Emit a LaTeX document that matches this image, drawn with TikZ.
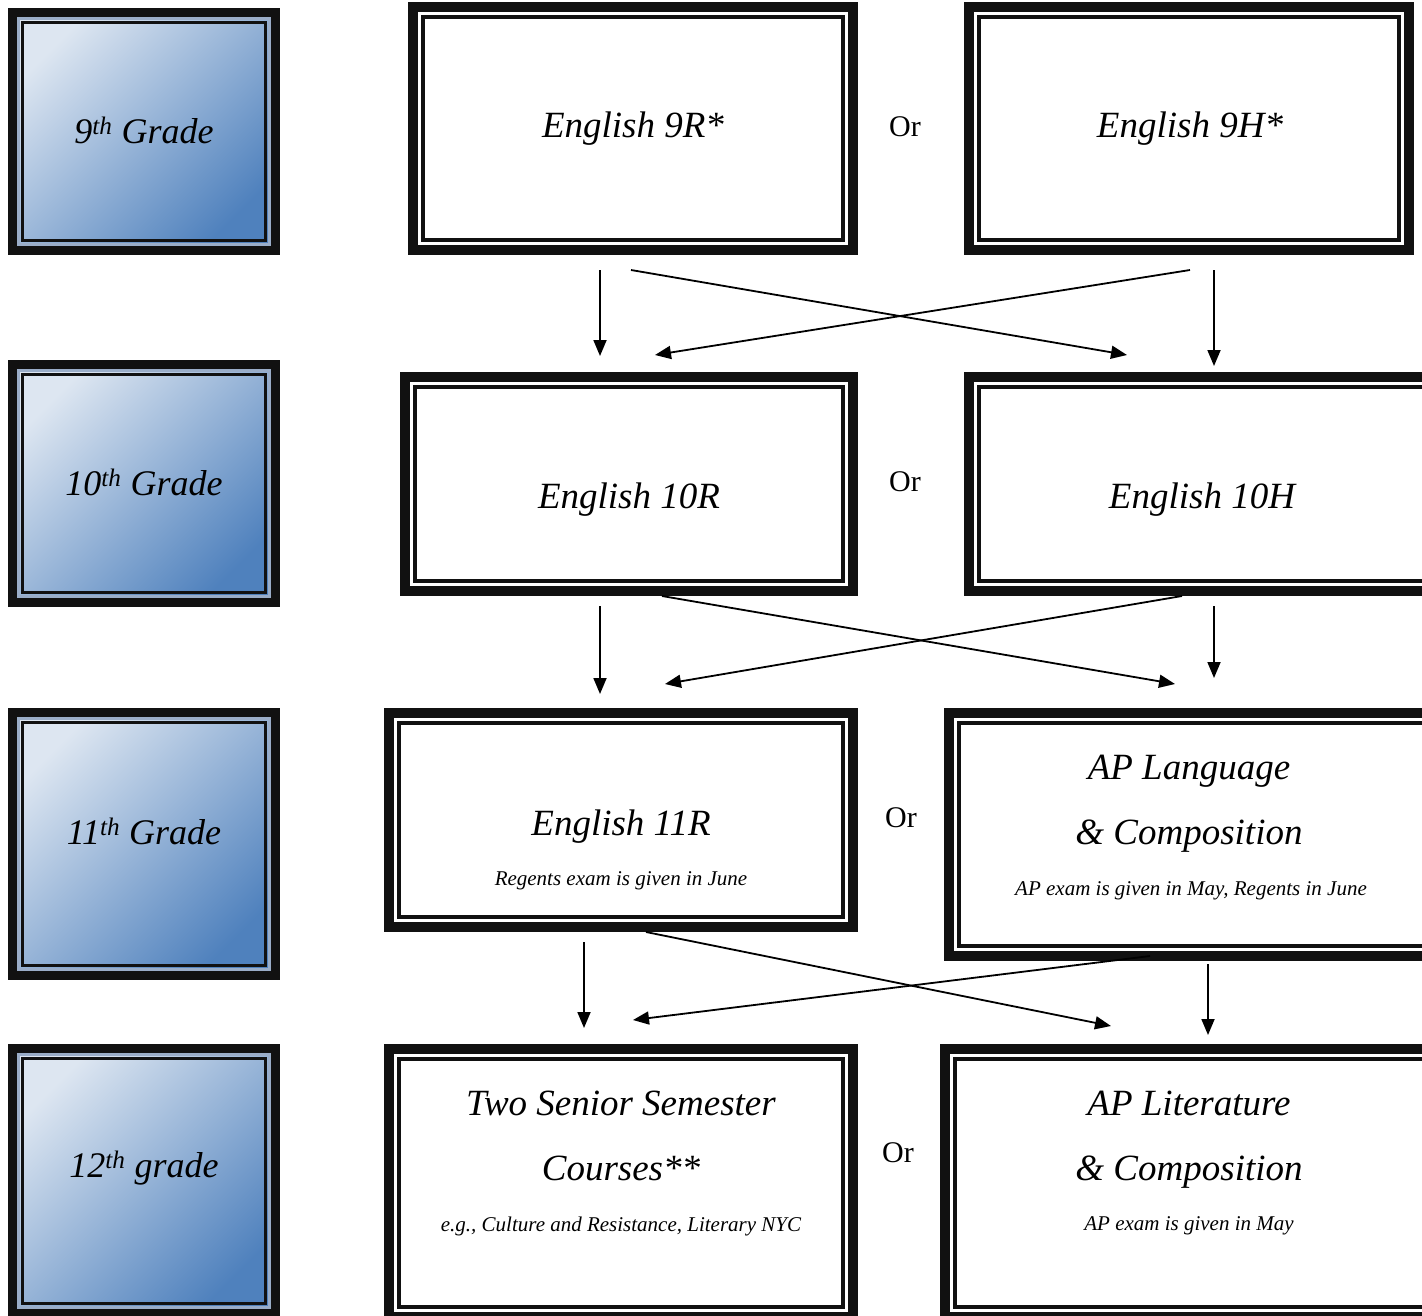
\documentclass[tikz,border=0pt]{standalone}
\usepackage{fontspec}
\setmainfont{Liberation Serif}
\usetikzlibrary{arrows.meta}
\definecolor{frame}{HTML}{111111}
\definecolor{gradlight}{HTML}{DDE6F1}
\definecolor{graddark}{HTML}{4F81BD}
\definecolor{gradband}{HTML}{9AADC8}

\begin{document}
\begin{tikzpicture}[x=1pt,y=-1pt,
    coursebox/.style={draw=frame, line width=10pt, fill=white, inner sep=0pt,
      path picture={\draw[frame, line width=3.5pt]
        ([shift={(10pt,-10pt)}]path picture bounding box.north west) rectangle
        ([shift={(-10pt,10pt)}]path picture bounding box.south east);}},
    gradebox/.style={draw=frame, line width=9pt, inner sep=0pt,
      top color=gradlight, bottom color=graddark, shading angle=45,
      path picture={
        \draw[gradband, line width=3pt]
          ([shift={(6.4pt,-6.4pt)}]path picture bounding box.north west) rectangle
          ([shift={(-6.4pt,6.4pt)}]path picture bounding box.south east);
        \draw[frame, line width=3pt]
          ([shift={(9.8pt,-9.8pt)}]path picture bounding box.north west) rectangle
          ([shift={(-9.8pt,9.8pt)}]path picture bounding box.south east);}},
    course/.style={font=\fontsize{37}{65}\selectfont\itshape, align=center, inner sep=0pt},
    note/.style={font=\fontsize{21}{25}\selectfont\itshape, inner sep=0pt},
    grade/.style={font=\fontsize{36}{43}\selectfont\itshape, inner sep=0pt},
    ortext/.style={font=\fontsize{30}{36}\selectfont, inner sep=0pt},
    flow/.style={line width=1.8pt, -{Triangle[length=16pt,width=13pt]}}]
  \clip (0,0) rectangle (1422,1315);

  % Grade boxes
  \foreach \nm/\x/\y/\w/\h in {g9/144/131.5/272/247, g10/144/483.5/272/247,
      g11/144/844/272/272, g12/144/1181/272/274}
    \node[gradebox, minimum width=\w-9, minimum height=\h-9] (\nm) at (\x,\y) {};
  \node[grade] (lg9) at (144,130) {9\textsuperscript{th} Grade};
  \node[grade] (lg10) at (144,482) {10\textsuperscript{th} Grade};
  \node[grade] (lg11) at (144,831) {11\textsuperscript{th} Grade};
  \node[grade] (lg12) at (144,1168) {12\textsuperscript{th} grade};

  % Course boxes
  \foreach \nm/\x/\y/\w/\h in {e9r/633/128.5/450/253, e9h/1189/128.5/450/253,
      e10r/629/484/458/224, e10h/1217/484/506/224,
      e11r/621/820/474/224, aplang/1207/834.5/526/253,
      senior/621/1183/474/278, aplit/1205/1183/530/278}
    \node[coursebox, minimum width=\w-10, minimum height=\h-10] (\nm) at (\x,\y) {};

  \node[course] (t9r) at (633,129) {English 9R*};
  \node[course] (t9h) at (1190,129) {English 9H*};
  \node[course] (t10r) at (629,500) {English 10R};
  \node[course] (t10h) at (1202,500) {English 10H};
  \node[course] (t11r) at (621,827) {English 11R};
  \node[note] (n11r) at (621,881) {Regents exam is given in June};
  \node[course] (tlang) at (1189,803.5) {AP Language\\\& Composition};
  \node[note] (nlang) at (1191,891) {AP exam is given in May, Regents in June};
  \node[course] (tsen) at (621,1135.5) {Two Senior Semester\\Courses**};
  \node[note] (nsen) at (621,1226) {e.g., Culture and Resistance, Literary NYC};
  \node[course] (tlit) at (1189,1139.5) {AP Literature\\\& Composition};
  \node[note] (nlit) at (1189,1226) {AP exam is given in May};

  % Or
  \foreach \nm/\x/\y in {or1/905/127, or2/905/482, or3/901/818, or4/898/1153}
    \node[ortext] (\nm) at (\x,\y) {Or};

  % Arrows
  \foreach \nm/\x/\y in {a1/600/270, b1/600/356, a2/631/270, b2/1127/355,
      a3/1190/270, b3/655/355, a4/1214/270, b4/1214/366,
      a5/600/606, b5/600/694, a6/662/596, b6/1175/684,
      a7/1182/596, b7/665/684, a8/1214/606, b8/1214/678,
      a9/584/942, b9/584/1028, a10/646/932, b10/1111/1026,
      a11/1150/956, b11/633/1020, a12/1208/964, b12/1208/1035}
    \coordinate (\nm) at (\x,\y);
  \foreach \i in {1,...,12}
    \draw[flow] (a\i) -- (b\i);
\end{tikzpicture}
\end{document}
